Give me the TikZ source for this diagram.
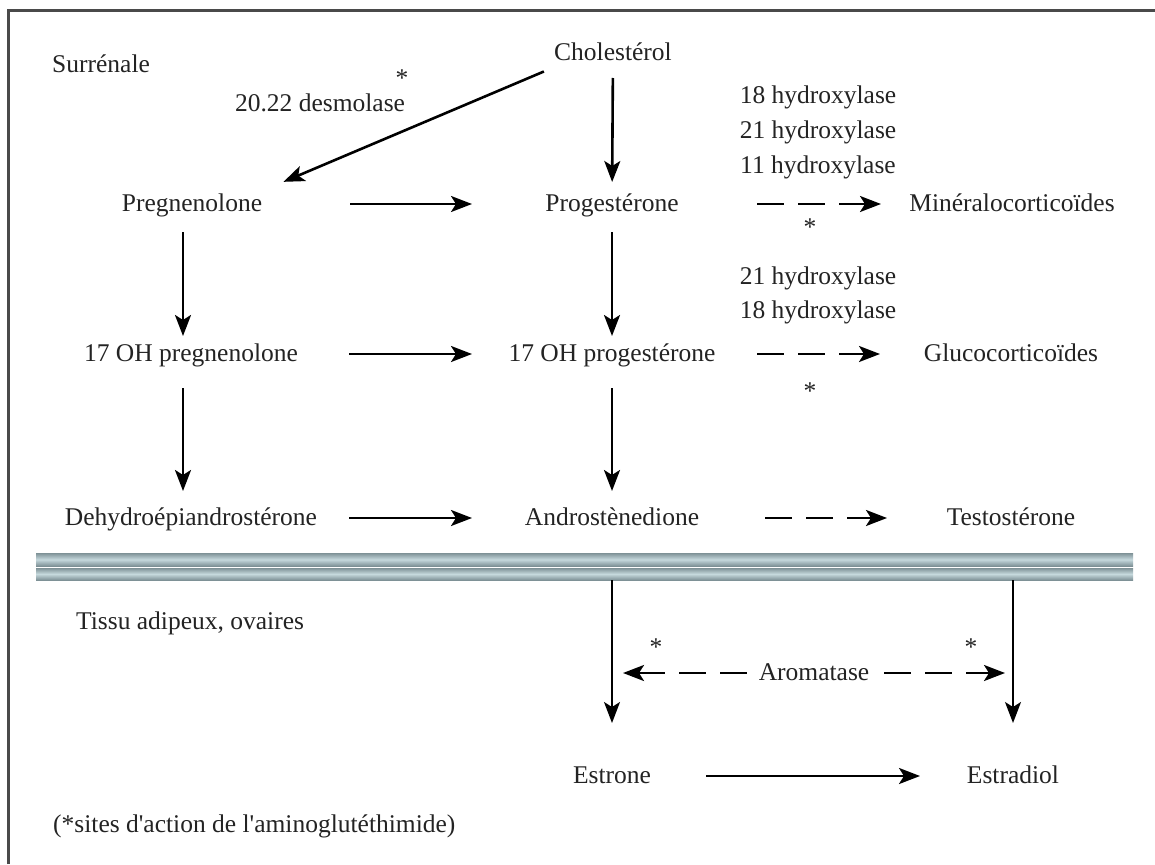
\documentclass[tikz,border=0pt]{standalone}
\usepackage{fontspec}
\setmainfont{Liberation Serif}
\usetikzlibrary{arrows.meta}
\definecolor{Ink}{HTML}{232323}
\definecolor{Frame}{HTML}{4A4A4A}
\definecolor{BandEdge}{HTML}{7E9196}
\definecolor{BandMid}{HTML}{C6D9DD}

\begin{document}
\begin{tikzpicture}[x=1pt,y=-1pt,
    >={Stealth[length=21pt,width=16pt,inset=5pt]},
    lbl/.style={inner sep=0pt,text=Ink,text height=20pt,text depth=6pt,
      font=\fontsize{25.5}{35}\selectfont},
    star/.style={lbl,text height=14pt,text depth=0pt},
    arr/.style={line width=2.6pt,->},
    thinarr/.style={line width=1.6pt,->},
    dsharr/.style={line width=2.6pt,->,dash pattern=on 27pt off 14pt},
    hfl/.style={shorten <=158pt,shorten >=140pt},
    dfl/.style={shorten <=145pt,shorten >=131pt}]
  \fill[white] (0,0) rectangle (1155,864);
  \useasboundingbox (0,0) rectangle (1155,864);
  \draw[Frame,line width=3pt] (8,864) -- (8,11) -- (1155,11);

  % Surrenale
  \node[lbl,anchor=west] (surr) at (52,66) {Surrénale};
  \node[lbl] (chol) at (613,54) {Cholestérol};
  \node[lbl] (desmo) at (320,105) {20.22 desmolase};
  \node[star] (st1) at (402,80) {*};
  \node[lbl] (preg) at (192,204) {Pregnenolone};
  \node[lbl] (prog) at (612,204) {Progestérone};
  \node[lbl] (mineral) at (1012,204) {Minéralocorticoïdes};
  \node[lbl] (hydA) at (818,96) {18 hydroxylase};
  \node[lbl] (hydB) at (818,131) {21 hydroxylase};
  \node[lbl] (hydC) at (818,166) {11 hydroxylase};
  \node[star] (st2) at (810,228) {*};
  \node[lbl] (ohpreg) at (191,354) {17 OH pregnenolone};
  \node[lbl] (ohprog) at (612,354) {17 OH progestérone};
  \node[lbl] (gluco) at (1011,354) {Glucocorticoïdes};
  \node[lbl] (hydD) at (818,277) {21 hydroxylase};
  \node[lbl] (hydE) at (818,311) {18 hydroxylase};
  \node[star] (st3) at (810,392) {*};
  \node[lbl] (dhea) at (191,518) {Dehydroépiandrostérone};
  \node[lbl] (andro) at (612,518) {Androstènedione};
  \node[lbl] (testo) at (1011,518) {Testostérone};

  \draw[arr,shorten <=11pt,shorten >=23pt] (chol.south west) -- (preg.north east);
  \draw[arr,shorten <=24pt,shorten >=22pt] (chol.center) -- (prog.center);
  \draw[arr,shorten <=28pt,shorten >=18pt] ([xshift=-9pt]preg.center) -- ([xshift=-8pt]ohpreg.center);
  \draw[arr,shorten <=34pt,shorten >=27pt] ([xshift=-8pt]ohpreg.center) -- ([xshift=-8pt]dhea.center);
  \draw[arr,shorten <=28pt,shorten >=18pt] (prog.center) -- (ohprog.center);
  \draw[arr,shorten <=34pt,shorten >=27pt] (ohprog.center) -- (andro.center);
  \draw[arr,hfl] (preg.center) -- (prog.center);
  \draw[arr,hfl] (ohpreg.center) -- (ohprog.center);
  \draw[arr,hfl] (dhea.center) -- (andro.center);
  \draw[dsharr,dfl] (prog.center) -- (mineral.center);
  \draw[dsharr,dfl] (ohprog.center) -- (gluco.center);
  \draw[dsharr,shorten <=153pt,shorten >=124pt] (andro.center) -- (testo.center);

  % band
  \shade[top color=BandEdge,bottom color=BandEdge,middle color=BandMid] (36,553) rectangle (1133,566);
  \shade[top color=BandEdge,bottom color=BandEdge,middle color=BandMid] (36,568) rectangle (1133,580);

  % Tissu adipeux
  \node[lbl,anchor=west] (tissu) at (76,622) {Tissu adipeux, ovaires};
  \node[lbl] (estrone) at (612,776) {Estrone};
  \node[lbl] (estradiol) at (1013,776) {Estradiol};
  \node[star] (st4) at (656,648) {*};
  \node[star] (st5) at (971,648) {*};
  \node[lbl,anchor=west] (note) at (53,825) {(*sites d\textquotesingle action de l\textquotesingle aminoglutéthimide)};
  \coordinate (bandL) at (612,580);
  \coordinate (bandR) at (1013,580);
  \coordinate (aroL) at (623,673);
  \coordinate (aroR) at (1005,673);

  \draw[thinarr,shorten >=53pt] (bandL) -- (estrone.center);
  \draw[thinarr,shorten >=53pt] (bandR) -- (estradiol.center);
  \draw[dsharr,<->] (aroL) -- node[lbl,fill=white,inner xsep=12pt] (aro) {Aromatase} (aroR);
  \draw[arr,shorten <=94pt,shorten >=93pt] (estrone.center) -- (estradiol.center);
\end{tikzpicture}
\end{document}
